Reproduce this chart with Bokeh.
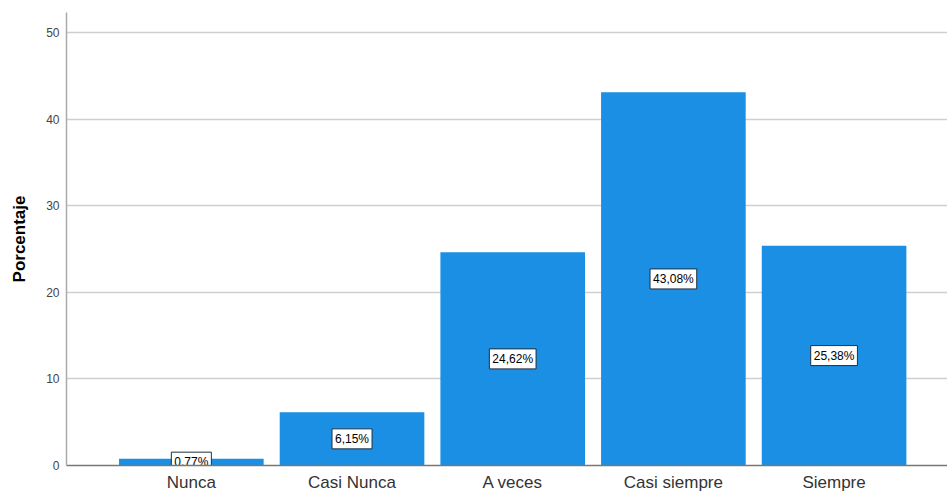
from bokeh.plotting import figure
from bokeh.models import ColumnDataSource, Range1d, FixedTicker
from bokeh.core.properties import value
from bokeh.embed import file_html
from bokeh.resources import INLINE

categories = ["Nunca", "Casi Nunca", "A veces", "Casi siempre", "Siempre"]
percentages = [0.77, 6.15, 24.62, 43.08, 25.38]
value_labels = ["0,77%", "6,15%", "24,62%", "43,08%", "25,38%"]
y_ticks = [0, 10, 20, 30, 40, 50]

xs = list(range(1, len(categories) + 1))
src = ColumnDataSource(dict(
    x=xs, top=percentages, mid=[v / 2 for v in percentages], lab=value_labels,
))

p = figure(width=947, height=494, output_backend="svg", toolbar_location=None,
           x_range=Range1d(0.223, 5.706), y_range=Range1d(0, 52.3),
           min_border_left=66, min_border_right=0, min_border_top=12, min_border_bottom=29)
p.outline_line_color = None
p.background_fill_color = "white"

p.vbar(x="x", top="top", width=0.9, source=src, fill_color="#1A8FE3", line_color=None)

p.text(x="x", y="mid", text="lab", source=src, text_align="center",
       text_baseline="middle", text_font=value("Liberation Sans"), text_font_size="12px",
       text_color="black", background_fill_color="white",
       border_line_color="#1f2f3f", border_line_width=1, padding=3)

p.xaxis.ticker = FixedTicker(ticks=xs)
p.xaxis.major_label_overrides = {i: c for i, c in zip(xs, categories)}
p.xaxis.major_label_text_font = "Liberation Sans"
p.xaxis.major_label_text_font_size = "17px"
p.xaxis.major_label_text_color = "#333333"
p.xaxis.major_tick_line_color = None
p.xaxis.minor_tick_line_color = None
p.xaxis.major_tick_out = 0
p.xaxis.major_tick_in = 0
p.xaxis.axis_line_color = "#777777"
p.xaxis.axis_line_width = 1.5
p.xaxis.major_label_standoff = 7
p.xgrid.grid_line_color = None

p.yaxis.ticker = FixedTicker(ticks=y_ticks)
p.yaxis.major_label_text_font = "Liberation Sans"
p.yaxis.major_label_text_font_size = "12px"
p.yaxis.major_label_text_color = "#444444"
p.yaxis.major_tick_line_color = None
p.yaxis.minor_tick_line_color = None
p.yaxis.major_tick_out = 0
p.yaxis.major_tick_in = 0
p.yaxis.axis_line_color = "#aaaaaa"
p.yaxis.axis_line_width = 1.5
p.yaxis.major_label_standoff = 7
p.yaxis.axis_label = "Porcentaje"
p.yaxis.axis_label_text_font = "Liberation Sans"
p.yaxis.axis_label_text_font_size = "17px"
p.yaxis.axis_label_text_font_style = "bold"
p.yaxis.axis_label_text_color = "black"
p.yaxis.axis_label_standoff = 14
p.ygrid.grid_line_color = "#cfcfcf"
p.ygrid.grid_line_width = 1.5

open("out.html", "w").write(file_html(p, INLINE))
